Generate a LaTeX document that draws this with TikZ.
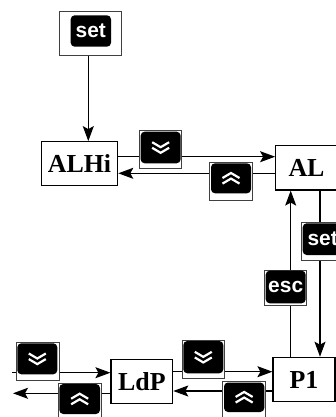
\documentclass[tikz,border=0pt]{standalone}
\usepackage{fontspec}
\setmainfont{Liberation Serif}
\setsansfont{Liberation Sans}
\usetikzlibrary{arrows.meta}
\pgfdeclarelayer{back}
\pgfdeclarelayer{lines}
\pgfsetlayers{back,lines,main}
\begin{document}
\begin{tikzpicture}[x=1bp,y=-1bp,
  st/.style={draw=black, line width=1.2bp, fill=white, inner sep=0pt,
    minimum height=44bp, font=\bfseries\fontsize{26}{26}\selectfont},
  frm/.style={draw=black!75, line width=0.9bp, fill=white, inner sep=0pt},
  keyb/.style={fill=black, rounded corners=4bp, inner sep=0pt,
    minimum width=40bp, minimum height=31bp, text=white,
    font=\sffamily\bfseries\fontsize{21}{21}\selectfont},
  con/.style={line width=1.2bp, -{Stealth[length=15bp,width=11bp,inset=3bp]}},
  upchev/.pic={\draw[white,line width=2.2bp,miter limit=10] (-8.5,-0.3)--(0,-5.3)--(8.5,-0.3) (-8.5,5.3)--(0,0.3)--(8.5,5.3);},
  dnchev/.pic={\draw[white,line width=2.2bp,miter limit=10] (-8.5,-5.3)--(0,-0.3)--(8.5,-5.3) (-8.5,0.3)--(0,5.3)--(8.5,0.3);}
]
\useasboundingbox (0,0) rectangle (336,417);
\begin{pgfonlayer}{back}
\fill[white] (0,0) rectangle (336,417);
\end{pgfonlayer}
\clip (0,0) rectangle (336,417);

% states
\node[st, minimum width=76.4bp] (ALHi) at (79.5,163.7) {ALHi};
\node[st, minimum width=61.6bp, minimum height=44.3bp] (AL) at (306.5,167.85) {AL};
\node[st, minimum width=62bp, minimum height=44.4bp] (P1) at (304,379.5) {P1};
\node[st, minimum width=61.7bp] (LdP) at (141.85,381.3) {LdP};

% keys
\node[frm, minimum width=62.4bp, minimum height=44bp] (topsetf) at (90.5,33.7) {};
\node[keyb, minimum width=40.3bp, minimum height=31.4bp] (topset) at (90.85,31) {set};

\node[frm, minimum width=42.4bp, minimum height=37.6bp] (dn1f) at (160.5,149.5) {};
\node[keyb, minimum height=31.6bp] (dn1) at (160.65,147.5) {};
\pic at (dn1) {dnchev};

\node[frm, minimum width=43bp, minimum height=37.7bp] (up1f) at (230.5,181.15) {};
\node[keyb, minimum height=30bp] (up1) at (231,178.3) {};
\pic at (up1) {upchev};

\node[frm, minimum width=42.3bp, minimum height=38.7bp] (setRf) at (322.85,241.35) {};
\node[keyb, minimum height=31.7bp] (setR) at (322.7,239.15) {set};

\node[frm, minimum width=42bp, minimum height=35bp] (escf) at (285.7,287.5) {};
\node[keyb, minimum height=32.6bp] (esc) at (285.7,287) {esc};

\node[frm, minimum width=43bp, minimum height=37.3bp] (dn2f) at (37.5,361.35) {};
\node[keyb] (dn2) at (37.3,358.8) {};
\pic at (dn2) {dnchev};

\node[frm, minimum width=42.7bp, minimum height=41.7bp] (up2f) at (79.65,404.15) {};
\node[keyb, minimum width=40.7bp, minimum height=30bp] (up2) at (79.65,399) {};
\pic at (up2) {upchev};

\node[frm, minimum width=41.6bp, minimum height=38.3bp] (dn3f) at (203.5,359.15) {};
\node[keyb, minimum height=32.3bp] (dn3) at (203.3,357.15) {};
\pic at (dn3) {dnchev};

\node[frm, minimum width=43bp, minimum height=43.3bp] (up3f) at (244.2,403.35) {};
\node[keyb, minimum width=40.3bp, minimum height=29.5bp] (up3) at (244.15,397.25) {};
\pic at (up3) {upchev};

\coordinate (inL) at (12.3,372.7);
\coordinate (outL) at (13,393.3);

% connectors
\begin{pgfonlayer}{lines}
\draw[con] ([xshift=-2.2bp]topsetf.south) -- ([xshift=-2.2bp]topsetf.south |- ALHi.north);
\draw[con] ([yshift=7bp]ALHi.east) -- ([yshift=7bp]ALHi.east -| AL.west);
\draw[con] ([yshift=-9.6bp]ALHi.east -| AL.west) -- ([yshift=-9.6bp]ALHi.east);
\draw[con] ([xshift=16bp]P1.north |- AL.south) -- ([xshift=16bp]P1.north);
\draw[con] ([xshift=-13.3bp]P1.north) -- ([xshift=-13.3bp]P1.north |- AL.south);
\draw[con] (inL) -- (inL -| LdP.west);
\draw[con] (outL -| LdP.west) -- (outL);
\draw[con] ([yshift=9.6bp]LdP.east) -- ([yshift=9.6bp]LdP.east -| P1.west);
\draw[con] ([yshift=-9.7bp]LdP.east -| P1.west) -- ([yshift=-9.7bp]LdP.east);
\end{pgfonlayer}
\end{tikzpicture}
\end{document}
